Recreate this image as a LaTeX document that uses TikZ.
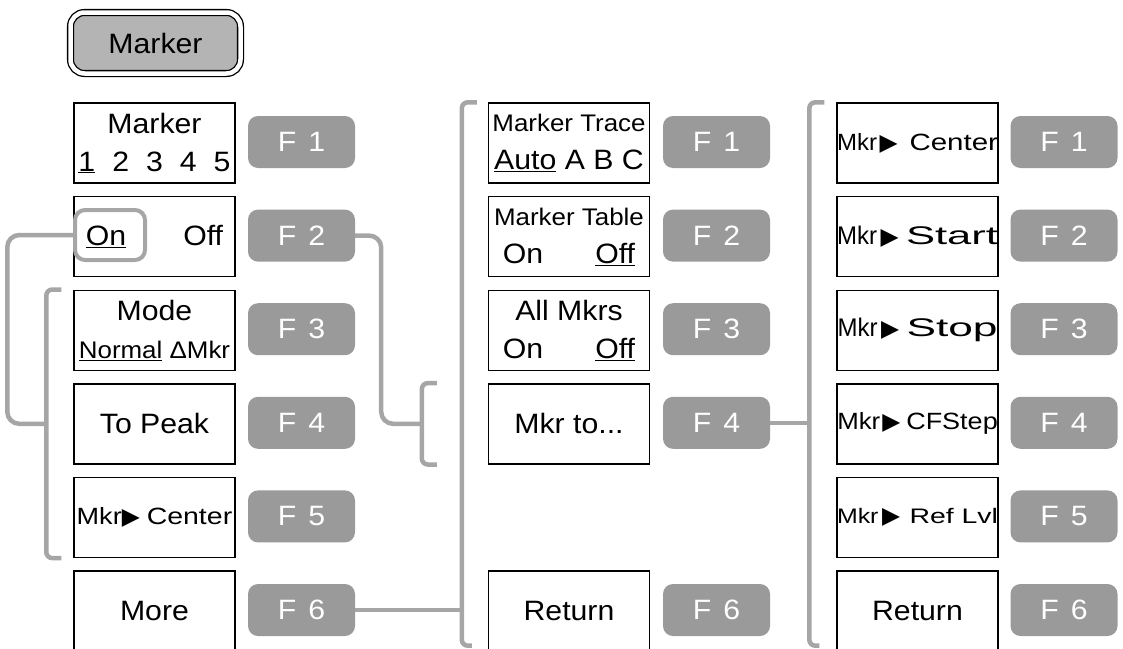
\documentclass[tikz,border=0pt]{standalone}
\usepackage{fontspec}
\setmainfont{Liberation Sans}[FakeStretch=1.08]
\newfontfamily\symfont{DejaVu Sans}
\usepackage{graphicx}
\usepackage{xcolor}
\usepackage{tikz}
\definecolor{keygray}{HTML}{9A9A9A}
\definecolor{linegray}{HTML}{A6A6A6}
\definecolor{btngray}{HTML}{B4B4B4}
\newcommand\mtri{\resizebox{18pt}{!}{\symfont ▶}}
\newcommand\fitw[2]{\resizebox{#1}{\height}{#2}}

\begin{document}
\begin{tikzpicture}[x=1pt,y=-1pt,
      menubox/.style={rectangle,draw,line width=1.4pt,
                  minimum width=161pt,minimum height=80pt,inner sep=0pt,
                  align=center,font=\fontsize{28}{38}\selectfont},
      fkey/.style={rectangle,fill=keygray,rounded corners=10pt,
                  minimum width=107pt,minimum height=52pt,inner sep=0pt,
                  text=white,font=\fontsize{28}{30}\selectfont},
      brk/.style={draw=linegray,line width=4.5pt,rounded corners=6pt},
      link/.style={draw=linegray,line width=4.5pt,rounded corners=12pt}]
    \useasboundingbox (0,0) rectangle (1123,648);

    \node[draw,double=white,double distance=4.5pt,line width=1.3pt,
          rounded corners=14pt,fill=btngray,minimum width=170pt,
          minimum height=61pt,font=\fontsize{28}{30}\selectfont] (marker) at (155.5,43) {Marker};

    % first menu
    \node[menubox] (mkrsel) at (154.5,143) {Marker\\\underline{1}\hspace{17pt}2\hspace{17pt}3\hspace{17pt}4\hspace{17pt}5};
    \node[menubox] (onoff)  at (154.5,236.6) {\underline{On}\hspace{57pt}Off};
    \node[menubox] (mode)   at (154.5,330.2) {Mode\\{\fontsize{24}{38}\selectfont\underline{Normal} ΔMkr}};
    \node[menubox] (peak)   at (154.5,423.8) {To Peak};
    \node[menubox,font=\fontsize{23.5}{30}\selectfont] (center) at (154.5,517.4)
          {\fitw{45pt}{Mkr}\hspace{0pt}\mtri\hspace{7pt}\fitw{85.5pt}{Center}};
    \node[menubox] (more)   at (154.5,611) {More};

    \node[fkey] (fa1) at (301.5,142)   {F\hspace{12pt}1};
    \node[fkey] (fa2) at (301.5,235.6) {F\hspace{12pt}2};
    \node[fkey] (fa3) at (301.5,329.2) {F\hspace{12pt}3};
    \node[fkey] (fa4) at (301.5,422.8) {F\hspace{12pt}4};
    \node[fkey] (fa5) at (301.5,516.4) {F\hspace{12pt}5};
    \node[fkey] (fa6) at (301.5,610)   {F\hspace{12pt}6};

    % second menu
    \node[menubox] (trace) at (569,143) {{\fontsize{24}{38}\selectfont Marker Trace}\\\underline{Auto} A B C};
    \node[menubox] (table) at (569,236.6) {{\fontsize{24}{38}\selectfont Marker Table}\\On\hspace{52pt}\underline{Off}};
    \node[menubox] (allmk) at (569,330.2) {All Mkrs\\On\hspace{52pt}\underline{Off}};
    \node[menubox] (mkrto) at (569,423.8) {Mkr to...};
    \node[menubox] (retb)  at (569,611) {Return};

    \node[fkey] (fb1) at (716.5,142)   {F\hspace{12pt}1};
    \node[fkey] (fb2) at (716.5,235.6) {F\hspace{12pt}2};
    \node[fkey] (fb3) at (716.5,329.2) {F\hspace{12pt}3};
    \node[fkey] (fb4) at (716.5,422.8) {F\hspace{12pt}4};
    \node[fkey] (fb6) at (716.5,610)   {F\hspace{12pt}6};

    % third menu
    \node[menubox,font=\fontsize{23.5}{30}\selectfont] (tocenter) at (917.5,143)
          {\fitw{40pt}{Mkr}\hspace{2.5pt}\mtri\hspace{12pt}\fitw{88.5pt}{Center}};
    \node[menubox,font=\fontsize{25.5}{30}\selectfont] (tostart) at (917.5,236.6)
          {\fitw{40pt}{Mkr}\hspace{3.5pt}\mtri\hspace{7.5pt}\fitw{92pt}{Start}};
    \node[menubox,font=\fontsize{25.5}{30}\selectfont] (tostop) at (917.5,330.2)
          {\fitw{40pt}{Mkr}\hspace{3.5pt}\mtri\hspace{7.5pt}\fitw{91pt}{Stop}};
    \node[menubox,font=\fontsize{23.5}{30}\selectfont] (tocf) at (917.5,423.8)
          {\fitw{43pt}{Mkr}\hspace{2pt}\mtri\hspace{6pt}\fitw{91.5pt}{CFStep}};
    \node[menubox,font=\fontsize{21}{30}\selectfont] (toref) at (917.5,517.4)
          {\fitw{41.5pt}{Mkr}\hspace{3.5pt}\mtri\hspace{9.5pt}\fitw{88.5pt}{Ref Lvl}};
    \node[menubox] (retc) at (917.5,611) {Return};

    \node[fkey] (fc1) at (1064,142)   {F\hspace{12pt}1};
    \node[fkey] (fc2) at (1064,235.6) {F\hspace{12pt}2};
    \node[fkey] (fc3) at (1064,329.2) {F\hspace{12pt}3};
    \node[fkey] (fc4) at (1064,422.8) {F\hspace{12pt}4};
    \node[fkey] (fc5) at (1064,516.4) {F\hspace{12pt}5};
    \node[fkey] (fc6) at (1064,610)   {F\hspace{12pt}6};

    % brackets
    \draw[brk] ([xshift=-12pt]mode.north west) -- ([xshift=-27pt]mode.north west)
               -- ([xshift=-27pt]center.south west) -- ([xshift=-12pt]center.south west);
    \draw[brk] ([xshift=-11pt]trace.north west) -- ([xshift=-26pt]trace.north west)
               -- ([xshift=-26pt,yshift=6pt]retb.south west) -- ([xshift=-16pt,yshift=6pt]retb.south west);
    \draw[brk] ([xshift=-12pt]tocenter.north west) -- ([xshift=-27pt]tocenter.north west)
               -- ([xshift=-27pt,yshift=6pt]retc.south west) -- ([xshift=-17pt,yshift=6pt]retc.south west);
    \draw[brk] ([xshift=-51pt]mkrto.north west) -- ([xshift=-66pt]mkrto.north west)
               -- ([xshift=-66pt]mkrto.south west) -- ([xshift=-51pt]mkrto.south west);

    \coordinate (brkA) at ([xshift=-27pt]peak.west);
    \coordinate (brkB) at ([xshift=-26pt]retb.west);
    \coordinate (brkC) at ([xshift=-27pt]tocf.west);
    \coordinate (brkD) at ([xshift=-66pt]mkrto.west);

    \node[draw=linegray,line width=4pt,rounded corners=10pt,
          minimum width=70pt,minimum height=50pt] (onsel) at (110,235) {};

    \draw[link] (onsel.west) -| ([xshift=-66pt]peak.west) -- (brkA);
    \draw[link] (fa2.east) -- ++(26,0) |- (brkD);
    \draw[link] (fa6.east) -- (fa6.east -| brkB);
    \draw[link] (fb4.east) -- (fb4.east -| brkC);
  \end{tikzpicture}
\end{document}
